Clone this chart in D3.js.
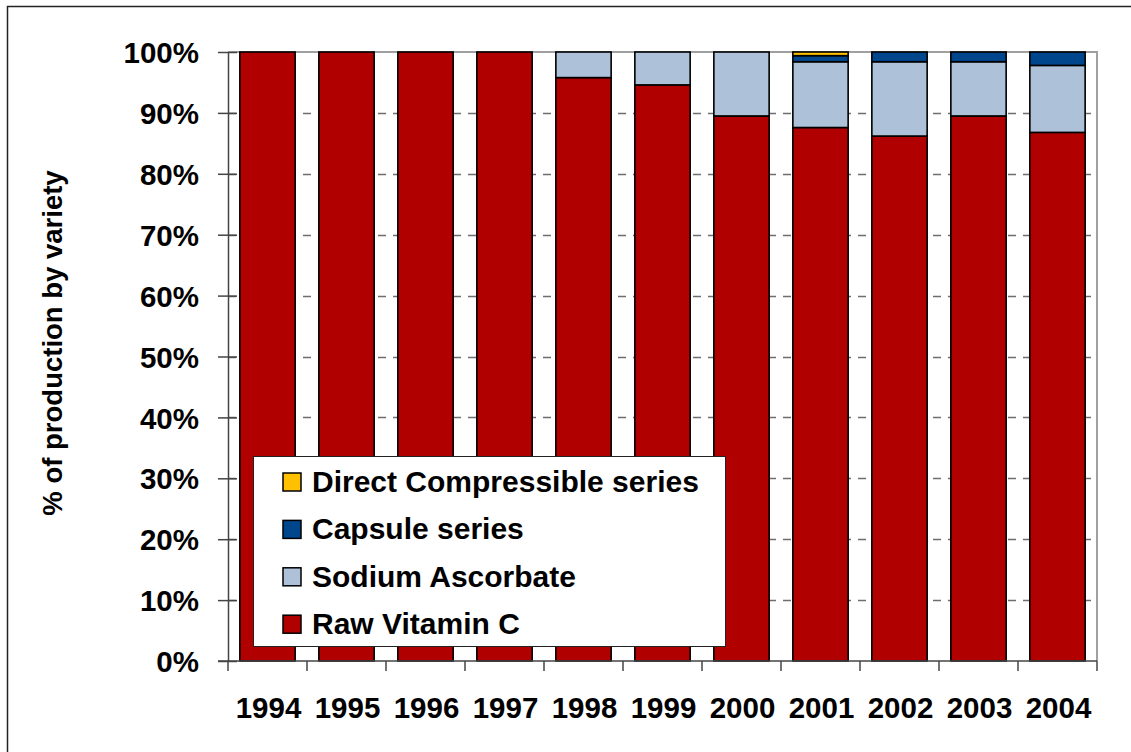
<!DOCTYPE html>
<html>
<head>
<meta charset="utf-8">
<script src="https://cdn.jsdelivr.net/npm/d3@7"></script>
<style>
  html, body { margin: 0; padding: 0; background: #fff; }
  svg { display: block; font-family: "Liberation Sans", Arial, Helvetica, sans-serif; font-weight: bold; }
</style>
</head>
<body>
<svg id="chart" width="1131" height="752"></svg>
<script>
// Share of production by product variety, per year (%)
const years = ["1994", "1995", "1996", "1997", "1998", "1999", "2000", "2001", "2002", "2003", "2004"];
const rawVitaminC     = [100, 100, 100, 100, 95.8, 94.6, 89.5, 87.6, 86.2, 89.5, 86.8];
const sodiumAscorbate = [0, 0, 0, 0, 4.2, 5.4, 10.5, 10.8, 12.2, 8.9, 11.0];
const capsuleSeries   = [0, 0, 0, 0, 0, 0, 0, 1.0, 1.6, 1.6, 2.2];
const directCompress  = [0, 0, 0, 0, 0, 0, 0, 0.6, 0, 0, 0];

const seriesNames  = ["Raw Vitamin C", "Sodium Ascorbate", "Capsule series", "Direct Compressible series"];
const seriesColors = ["#b00000", "#adc2d8", "#00468c", "#ffc000"];
const yTicks = [0, 10, 20, 30, 40, 50, 60, 70, 80, 90, 100];

const keys = ["raw", "sodium", "capsule", "dc"];
const rows = years.map((yr, i) => ({
  year: yr, raw: rawVitaminC[i], sodium: sodiumAscorbate[i], capsule: capsuleSeries[i], dc: directCompress[i]
}));

const svg = d3.select("#chart");
const plotLeft = 228, plotRight = 1097, plotTop = 52, plotBottom = 661;

const x = d3.scaleBand().domain(years).range([plotLeft, plotRight]).paddingInner(0.3).paddingOuter(0.15);
const y = d3.scaleLinear().domain([0, 100]).range([plotBottom, plotTop]);
const color = d3.scaleOrdinal().domain(keys).range(seriesColors);

// Outer frame
svg.append("rect")
  .attr("x", 7.5).attr("y", 6.5).attr("width", 1300).attr("height", 900)
  .attr("fill", "none").attr("stroke", "#222").attr("stroke-width", 1.5);

// Dashed gridlines
svg.append("g").selectAll("line")
  .data(yTicks.filter(t => t > 0 && t < 100))
  .join("line")
  .attr("x1", plotLeft).attr("x2", plotRight)
  .attr("y1", d => Math.round(y(d)) + 0.5).attr("y2", d => Math.round(y(d)) + 0.5)
  .attr("stroke", "#6e6e6e").attr("stroke-width", 1.5).attr("stroke-dasharray", "8,7");

// Plot border (top and right)
svg.append("path")
  .attr("d", `M${plotLeft},${y(100)}H${plotRight}V${plotBottom}`)
  .attr("fill", "none").attr("stroke", "#a0a0a0").attr("stroke-width", 2);

// Stacked bars
const stacked = d3.stack().keys(keys)(rows);
svg.append("g").selectAll("g")
  .data(stacked)
  .join("g")
  .attr("fill", d => color(d.key))
  .selectAll("rect")
  .data(d => d.filter(s => s[1] - s[0] > 0))
  .join("rect")
  .attr("x", d => x(d.data.year))
  .attr("width", x.bandwidth())
  .attr("y", d => y(d[1]))
  .attr("height", d => y(d[0]) - y(d[1]))
  .attr("stroke", "#000").attr("stroke-width", 1.6);

// Y axis
const yAxis = svg.append("g").attr("transform", `translate(${plotLeft},0)`)
  .call(d3.axisLeft(y).tickValues(yTicks).tickFormat(d => d + "%").tickSizeInner(10).tickSizeOuter(0).tickPadding(19));
yAxis.select(".domain").attr("stroke", "#444").attr("stroke-width", 1.5);
yAxis.selectAll(".tick line").attr("x2", 9).attr("x1", -10).attr("stroke", "#444").attr("stroke-width", 1.5);
yAxis.selectAll(".tick text")
  .attr("font-size", 29.5).attr("font-family", null).attr("fill", "#000").attr("dy", "0.36em");

// X axis with ticks between categories
const xAxis = svg.append("g").attr("transform", `translate(0,${plotBottom})`);
xAxis.append("line").attr("x1", plotLeft - 10).attr("x2", plotRight)
  .attr("stroke", "#444").attr("stroke-width", 1.5);
const boundaries = years.map((yr, i) => plotLeft + i * x.step()).concat([plotRight]);
xAxis.selectAll(".sep").data(boundaries).join("line")
  .attr("class", "sep")
  .attr("x1", d => d).attr("x2", d => d).attr("y1", 0).attr("y2", 10)
  .attr("stroke", "#444").attr("stroke-width", 1.5);
xAxis.selectAll(".lbl").data(years).join("text")
  .attr("class", "lbl")
  .attr("x", d => x(d) + x.bandwidth() / 2 + 1)
  .attr("y", 57)
  .attr("text-anchor", "middle").attr("font-size", 29.5).attr("fill", "#000")
  .text(d => d);

// Y axis title
svg.append("text")
  .attr("transform", "translate(62,343) rotate(-90)")
  .attr("text-anchor", "middle").attr("font-size", 27.5).attr("fill", "#000")
  .text("% of production by variety");

// Legend
const legend = svg.append("g");
legend.append("rect")
  .attr("x", 253.5).attr("y", 456.5).attr("width", 472).attr("height", 190)
  .attr("fill", "#fff").attr("stroke", "#222").attr("stroke-width", 1);
const legendOrder = [3, 2, 1, 0];
legendOrder.forEach((si, row) => {
  const base = 492 + row * 47.4;
  legend.append("rect")
    .attr("x", 283).attr("y", base - 19).attr("width", 18).attr("height", 18)
    .attr("fill", seriesColors[si]).attr("stroke", "#000").attr("stroke-width", 1.5);
  legend.append("text")
    .attr("x", 312).attr("y", base)
    .attr("font-size", 30).attr("fill", "#000")
    .text(seriesNames[si]);
});
</script>
</body>
</html>
